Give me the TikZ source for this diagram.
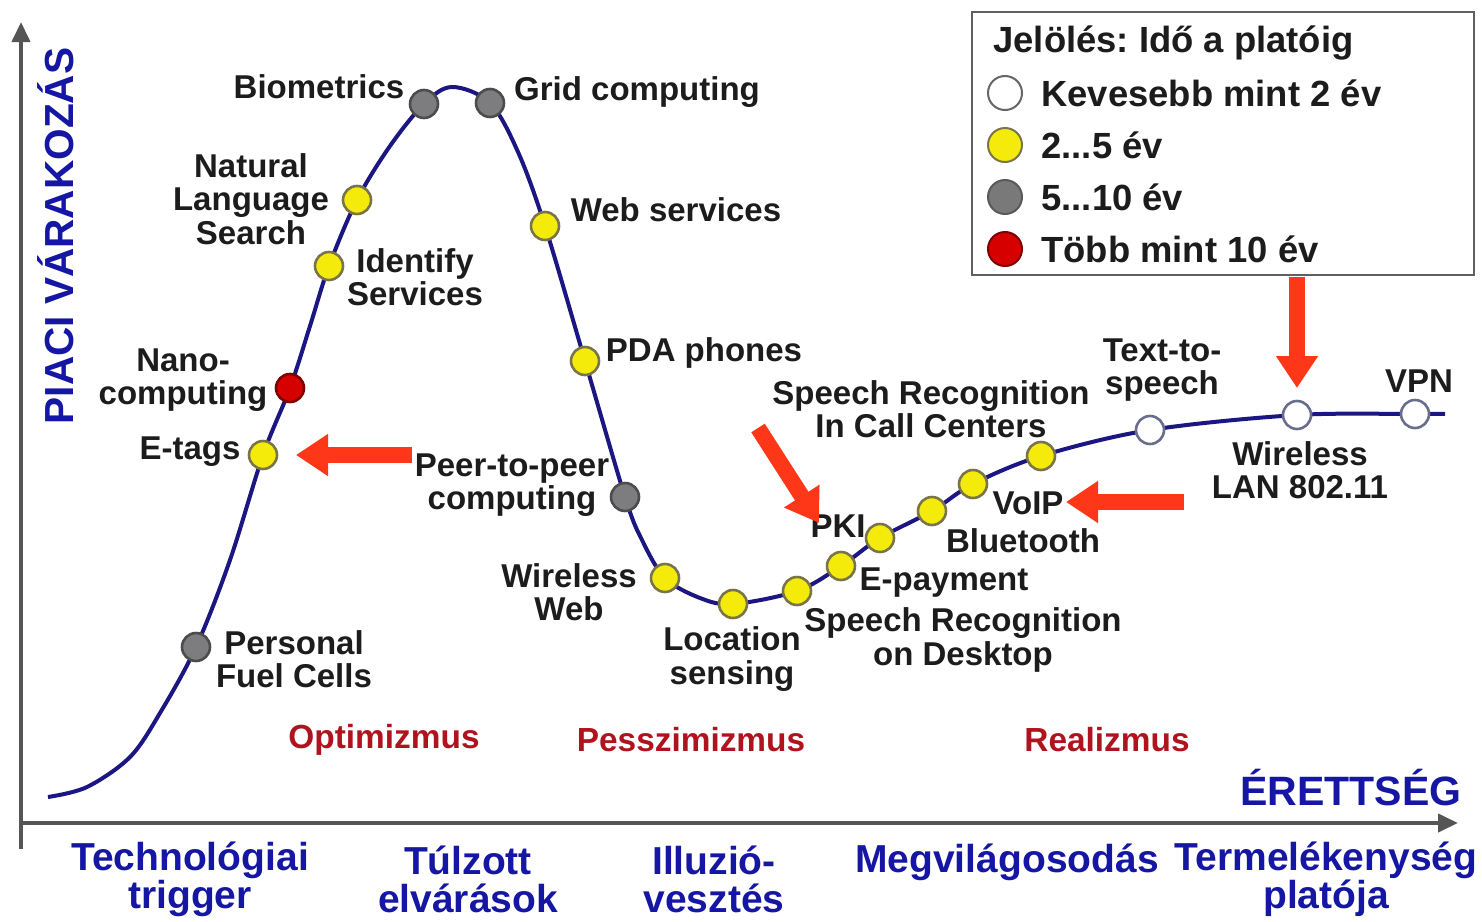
\documentclass[tikz,border=0pt]{standalone}
\usepackage{fontspec}
\setmainfont{Liberation Sans}
\usetikzlibrary{arrows.meta, positioning}
\definecolor{curveblue}{RGB}{28,22,130}
\definecolor{axisgray}{RGB}{85,85,85}
\definecolor{stageblue}{RGB}{22,22,165}
\definecolor{phasered}{RGB}{175,20,30}
\definecolor{hintred}{RGB}{255,55,25}
\definecolor{labeltext}{RGB}{28,28,28}
\definecolor{dotyellow}{RGB}{245,235,10}
\definecolor{dotgray}{RGB}{125,125,128}
\definecolor{dotred}{RGB}{215,0,0}
\definecolor{dotedge}{RGB}{105,110,140}
\frenchspacing

\begin{document}
\begin{tikzpicture}[
    x=0.5pt, y=-0.5pt,
    lbl/.style={font=\fontsize{16.5}{16.75}\selectfont\bfseries, text=labeltext, align=center, inner sep=0pt},
    phase/.style={font=\fontsize{16.7}{18}\selectfont\bfseries, text=phasered, inner sep=0pt},
    stage/.style={font=\fontsize{19.5}{19}\selectfont\bfseries, text=stageblue, align=center, inner sep=0pt},
    legtext/.style={font=\fontsize{18.2}{20}\selectfont\bfseries, text=labeltext, inner sep=0pt},
    dot/.style={circle, minimum size=14pt, inner sep=0pt, line width=1.3pt},
    yeldot/.style={dot, fill=dotyellow, draw=yellow!40!black},
    graydot/.style={dot, fill=dotgray, draw=gray!60!black},
    reddot/.style={dot, fill=dotred, draw=red!50!black},
    whitedot/.style={dot, fill=white, draw=dotedge},
    legdot/.style={circle, minimum size=17pt, inner sep=0pt, line width=1pt},
    hype/.style={line width=2pt, draw=curveblue},
    axis/.style={line width=2pt, draw=axisgray, -{Triangle[length=10pt,width=9pt]}},
    hint/.style={line width=8pt, draw=hintred, -{Triangle[length=16pt,width=20pt]}}
]
\useasboundingbox (0,0) rectangle (1482,921);

% axes
\coordinate (ybot) at (21,849);
\coordinate (ytop) at (21,22);
\coordinate (xbeg) at (19,823);
\coordinate (xend) at (1458,823);
\draw [axis] (ybot) -- (ytop);
\draw [axis] (xbeg) -- (xend);

\node (yaxis) [stage, font=\fontsize{20.3}{20}\selectfont\bfseries, rotate=90] at (56,236) {PIACI VÁRAKOZÁS};
\node (xaxis) [stage, font=\fontsize{20.5}{20}\selectfont\bfseries] at (1351,788) {ÉRETTSÉG};

% hype curve
\draw [hype] plot [smooth, tension=0.55] coordinates {(48,797) (87,787) (130,757) (160,713) (196,647) (230,560) (263,455) (290,388) (310,326) (329,266) (357,200) (390,146) (424,104) (452,87) (490,103) (518,152) (545,226) (585,361) (625,497) (642,540) (665,578) (700,598) (733,604) (797,591) (841,566) (880,538) (932,511) (973,484) (1041,456) (1150,430) (1297,415) (1415,414) (1445,414)};

% technology labels
\node (biometrics) [lbl] at (319,87) {Biometrics};
\node (grid) [lbl] at (637,92) {Grid computing};
\node (nls) [lbl] at (251,199) {Natural\\Language\\Search};
\node (identify) [lbl] at (415,277) {Identify\\Services};
\node (websvc) [lbl] at (676,210) {Web services};
\node (pda) [lbl] at (704,353) {PDA phones};
\node (nano) [lbl] at (183,380) {Nano-\\computing};
\node (etags) [lbl] at (190,452) {E-tags};
\node (p2p) [lbl] at (512,485) {Peer-to-peer\\computing};
\node (fuel) [lbl] at (294,659) {Personal\\Fuel Cells};
\node (wweb) [lbl] at (569,592) {Wireless\\Web};
\node (location) [lbl] at (732,659) {Location\\sensing};
\node (srdesk) [lbl] at (963,640) {Speech Recognition\\on Desktop};
\node (epay) [lbl] at (944,583) {E-payment};
\node (pki) [lbl] at (838,526) {PKI};
\node (bluetooth) [lbl] at (1023,541) {Bluetooth};
\node (voip) [lbl] at (1028,503) {VoIP};
\node (srcall) [lbl] at (931,409) {Speech Recognition\\In Call Centers};
\node (tts) [lbl] at (1162,370) {Text-to-\\speech};
\node (wlan) [lbl] at (1300,470) {Wireless\\LAN 802.11};
\node (vpn) [lbl] at (1419,381) {VPN};

% dots on the curve
\node (fueldot) [graydot] at (196,647) {};
\node (etagsdot) [yeldot] at (263,455) {};
\node (nanodot) [reddot] at (290,388) {};
\node (identifydot) [yeldot] at (329,266) {};
\node (nlsdot) [yeldot] at (357,200) {};
\node (biometricsdot) [graydot] at (424,104) {};
\node (griddot) [graydot] at (490,103) {};
\node (websvcdot) [yeldot] at (545,226) {};
\node (pdadot) [yeldot] at (585,361) {};
\node (p2pdot) [graydot] at (625,497) {};
\node (wwebdot) [yeldot] at (665,578) {};
\node (locationdot) [yeldot] at (733,604) {};
\node (srdeskdot) [yeldot] at (797,591) {};
\node (epaydot) [yeldot] at (841,566) {};
\node (pkidot) [yeldot] at (880,538) {};
\node (bluetoothdot) [yeldot] at (932,511) {};
\node (voipdot) [yeldot] at (973,484) {};
\node (srcalldot) [yeldot] at (1041,456) {};
\node (ttsdot) [whitedot] at (1150,430) {};
\node (wlandot) [whitedot] at (1297,415) {};
\node (vpndot) [whitedot] at (1415,414) {};

% phases
\node (optimism) [phase] at (384,740) {Optimizmus};
\node (pessimism) [phase] at (691,740) {Pesszimizmus};
\node (realism) [phase] at (1107,740) {Realizmus};

% stages under the axis
\node (trigger) [stage] at (190,879) {Technológiai\\trigger};
\node (peak) [stage] at (468,879) {Túlzott\\elvárások};
\node (trough) [stage] at (714,879) {Illuzió-\\vesztés};
\node (slope) [stage, anchor=base] at (1007,872) {Megvilágosodás};
\node (plateau) [stage] at (1326,879) {Termelékenység\\platója};

% red pointers
\coordinate (etagstail) at (412,455);
\coordinate (etagstip) at (296,455);
\coordinate (pkitail) at (758,428);
\coordinate (pkitip) at (819,523);
\coordinate (voiptail) at (1184,502);
\coordinate (voiptip) at (1066,502);
\coordinate (wlantail) at (1297,277);
\coordinate (wlantip) at (1297,388);
\draw [hint] (etagstail) -- (etagstip);
\draw [hint] (pkitail) -- (pkitip);
\draw [hint] (voiptail) -- (voiptip);
\draw [hint] (wlantail) -- (wlantip);

% legend
\node (legend) [draw=gray!75!black, line width=1pt, fill=white, minimum width=251pt, minimum height=131.5pt, inner sep=0pt] at (1223,143.5) {};
\node (legtitle) [legtext, anchor=west] at (993,43) {Jelölés: Idő a platóig};
\node (legwhite) [legdot, fill=white, draw=gray!80!black] at (1005,93) {};
\node (legyellow) [legdot, fill=dotyellow, draw=yellow!40!black] at (1005,145) {};
\node (leggray) [legdot, fill=gray!95!black, draw=gray!70!black] at (1005,197) {};
\node (legred) [legdot, fill=dotred, draw=red!50!black] at (1005,249) {};
\node (legwhitetxt) [legtext, right=9pt of legwhite] {Kevesebb mint 2 év};
\node (legyellowtxt) [legtext, right=9pt of legyellow] {2...5 év};
\node (leggraytxt) [legtext, right=9pt of leggray] {5...10 év};
\node (legredtxt) [legtext, right=9pt of legred] {Több mint 10 év};

\end{tikzpicture}
\end{document}
